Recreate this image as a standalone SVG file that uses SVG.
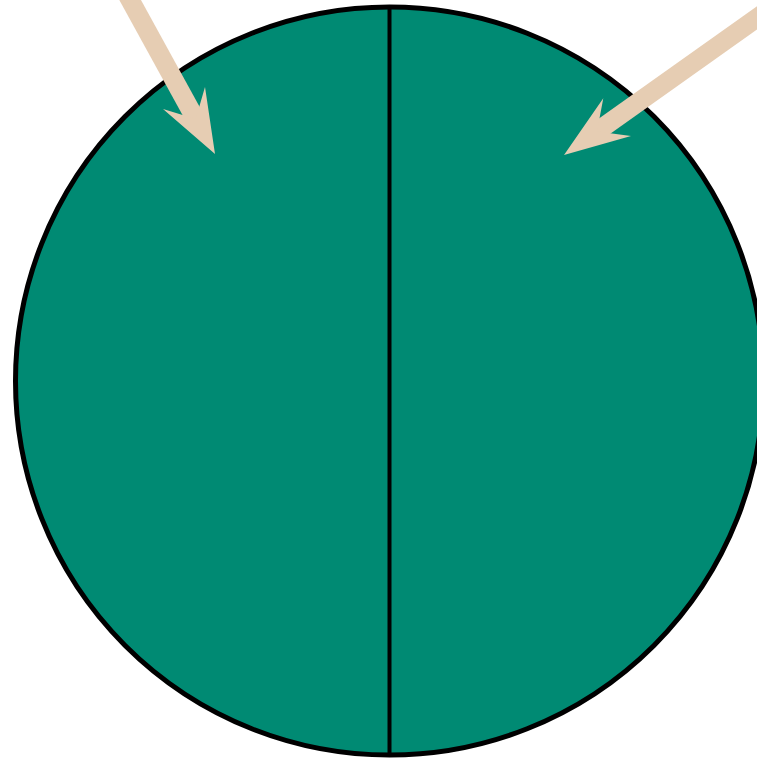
<svg xmlns="http://www.w3.org/2000/svg" width="757" height="760" viewBox="0 0 757 760">
<style>
.body{fill:#008a73;stroke:#000;stroke-width:5}
.div{stroke:#000;stroke-width:4;fill:none}
.shaft{stroke:#e6cdb3;stroke-width:19;fill:none}
.head{fill:#e6cdb3;stroke:none}
</style>
<rect width="757" height="760" fill="#fff"/>
<g id="circle">
<circle class="body" cx="389.5" cy="381" r="374"/>
<line class="div" x1="389.5" y1="7" x2="389.5" y2="755"/>
</g>
<g id="connectors">
<line class="shaft" x1="123" y1="-13" x2="201" y2="129"/>
<path class="head" d="M215,154 L205,87 L195.7,119 L163,109 Z"/>
<line class="shaft" x1="775" y1="5" x2="590" y2="136.5"/>
<path class="head" d="M564,155 L603.3,98.3 L597,131.5 L631,136 Z"/>
</g>
</svg>
